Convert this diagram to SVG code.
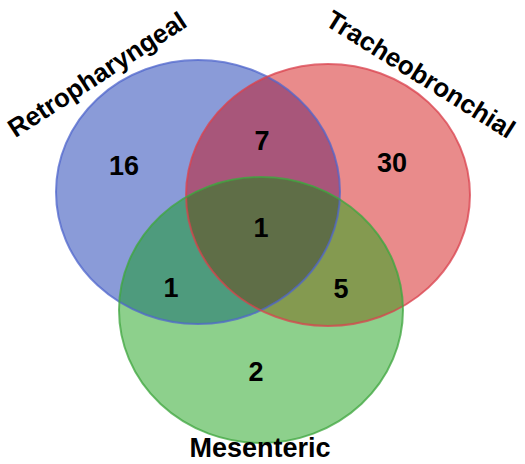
<svg xmlns="http://www.w3.org/2000/svg" width="525" height="464" viewBox="0 0 525 464">
<style>
.lbl{font-family:"Liberation Sans",Arial,sans-serif;font-weight:bold;fill:#000;text-anchor:middle}
.num{font-size:27px}
.name{font-size:26px}
</style>
<defs>
<clipPath id="cB"><ellipse cx="198" cy="192" rx="142" ry="132"/></clipPath>
<clipPath id="cR"><ellipse cx="328" cy="195" rx="142" ry="131"/></clipPath>
</defs>
<rect width="525" height="464" fill="#fff"/>
<g id="retropharyngeal">
<ellipse cx="198" cy="192" rx="142" ry="132" fill="#8a9bd8"/>
</g>
<g id="tracheobronchial">
<ellipse cx="328" cy="195" rx="142" ry="131" fill="#e98b8b"/>
<ellipse cx="328" cy="195" rx="142" ry="131" fill="#a8567a" clip-path="url(#cB)"/>
</g>
<g id="mesenteric">
<ellipse cx="261" cy="310" rx="142" ry="133" fill="#8dd08c"/>
<ellipse cx="261" cy="310" rx="142" ry="133" fill="#4e9b7d" clip-path="url(#cB)"/>
<ellipse cx="261" cy="310" rx="142" ry="133" fill="#849a50" clip-path="url(#cR)"/>
<g clip-path="url(#cB)"><ellipse cx="261" cy="310" rx="142" ry="133" fill="#5f6e47" clip-path="url(#cR)"/></g>
</g>
<g id="outlines" fill="none" stroke-width="2" stroke-opacity="0.75">
<ellipse cx="198" cy="192" rx="142" ry="132" stroke="#4f66cc"/>
<ellipse cx="328" cy="195" rx="142" ry="131" stroke="#d9424e"/>
<ellipse cx="261" cy="310" rx="142" ry="133" stroke="#3fa63f"/>
</g>
<g id="labels">
<text class="lbl name" transform="translate(102,82) rotate(-33)">Retropharyngeal</text>
<text class="lbl name" transform="translate(416,82) rotate(32)">Tracheobronchial</text>
<text class="lbl" x="260" y="457" style="font-size:27px">Mesenteric</text>
<text class="lbl num" x="124" y="175">16</text>
<text class="lbl num" x="262" y="150">7</text>
<text class="lbl num" x="392" y="172">30</text>
<text class="lbl num" x="261" y="237">1</text>
<text class="lbl num" x="171" y="297">1</text>
<text class="lbl num" x="341" y="298">5</text>
<text class="lbl num" x="256" y="381">2</text>
</g>
</svg>
